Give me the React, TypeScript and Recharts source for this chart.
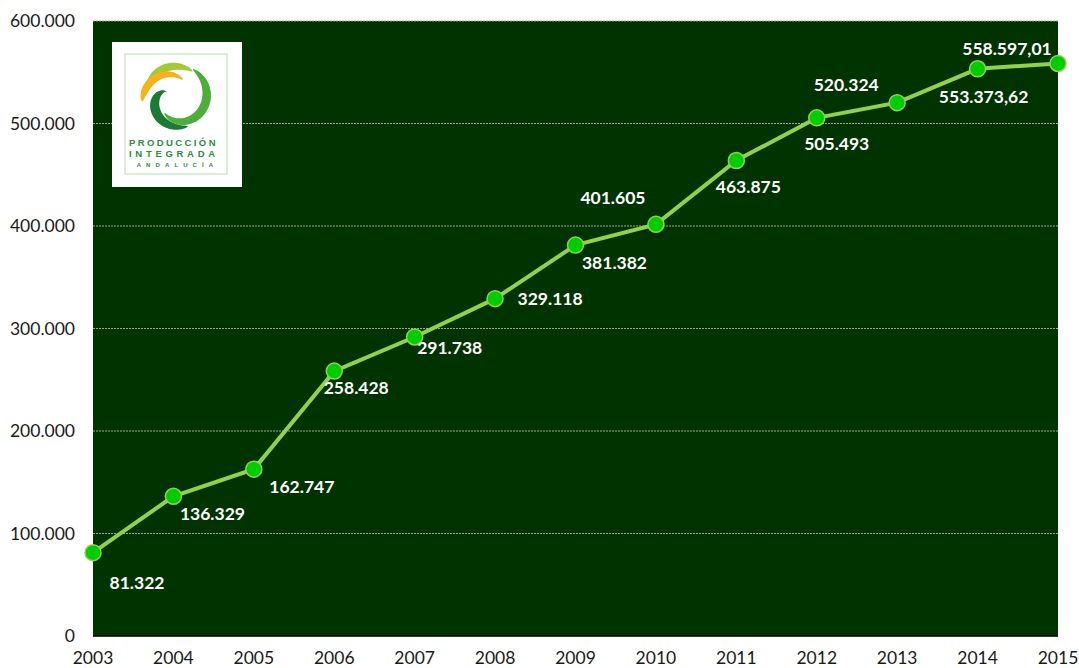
import React from 'react';
import { LineChart, Line, XAxis, YAxis, CartesianGrid, LabelList } from 'recharts';

const years = ['2003','2004','2005','2006','2007','2008','2009','2010','2011','2012','2013','2014','2015'];
const hectares = [81322, 136329, 162747, 258428, 291738, 329118, 381382, 401605, 463875, 505493, 520324, 553373.62, 558597.01];
const yTicks = [0, 100000, 200000, 300000, 400000, 500000, 600000];

// label placement offsets relative to each point (dx, dy)
const labelOffsets: [number, number][] = [
  [44, 30], [39, 17], [48, 17], [22, 16], [35, 11], [55, 0], [39, 17],
  [-43, -27], [12, 26], [20, 26], [-51, -18], [6, 28], [-51, -15],
];

const data = years.map((y, i) => ({ year: y, value: hectares[i] }));

const fmt = (v: number) => v.toLocaleString('de-DE', { maximumFractionDigits: 2 });

const FONT = 'Lato, "Open Sans", sans-serif';
const LOGO_FONT = "'Liberation Sans', Arial, sans-serif";

const renderLabel = (props: any) => {
  const { x, y, index, value } = props;
  const [dx, dy] = labelOffsets[index] || [0, 0];
  return (
    <text x={x + dx} y={y + dy} textAnchor="middle" dominantBaseline="central"
      fill="#ffffff" fontFamily={FONT} fontWeight={700} fontSize={17.5}>
      {fmt(value)}
    </text>
  );
};

function swoosh(cx: number, cy: number, r1: number, r2: number, a1: number, a2: number,
  w: number, peak: number, rexp = 1) {
  const n = 48;
  const outer: string[] = [];
  const inner: string[] = [];
  for (let i = 0; i <= n; i++) {
    const u = i / n;
    const a = ((a1 + (a2 - a1) * u) * Math.PI) / 180;
    const r = r1 + (r2 - r1) * Math.pow(u, rexp);
    const f = u < peak ? Math.sin((Math.PI / 2) * (u / peak)) : Math.sin((Math.PI / 2) * ((1 - u) / (1 - peak)));
    const hw = (w / 2) * Math.pow(Math.max(f, 0), 0.6);
    outer.push(`${(cx + (r + hw) * Math.cos(a)).toFixed(2)},${(cy + (r + hw) * Math.sin(a)).toFixed(2)}`);
    inner.push(`${(cx + (r - hw) * Math.cos(a)).toFixed(2)},${(cy + (r - hw) * Math.sin(a)).toFixed(2)}`);
  }
  return 'M' + outer.join(' L') + ' L' + inner.reverse().join(' L') + ' Z';
}

const Logo = () => (
  <svg width={1079} height={668} style={{ position: 'absolute', left: 0, top: 0, pointerEvents: 'none' }}>
    <rect x={112} y={42} width={130} height={145} fill="#ffffff" />
    <rect x={125} y={54} width={102} height={120} fill="none" stroke="#b9dcb0" strokeWidth={1} />
    <path d={swoosh(175, 97, 30, 31, 200, 305, 8, 0.45)} fill="#a3c83a" />
    <path d={swoosh(175, 97, 33, 19, -58, 124, 9, 0.4, 2)} fill="#4fae3a" />
    <path d={swoosh(175, 97, 33, 19, 172, 295, 8, 0.25)} fill="#f6b21c" />
    <path d={swoosh(175, 97, 9, 32, 215, 66, 10, 0.45, 0.6)} fill="#1c7a35" />
    <text x={129} y={146.2} fill="#2a8c3e" fontFamily={LOGO_FONT} fontWeight={700} fontSize={9.5} letterSpacing={2.4}>PRODUCCIÓN</text>
    <text x={129} y={157} fill="#2a8c3e" fontFamily={LOGO_FONT} fontWeight={700} fontSize={9.5} letterSpacing={3.7}>INTEGRADA</text>
    <text x={136.7} y={166.7} fill="#2a8c3e" fontFamily={LOGO_FONT} fontWeight={700} fontSize={6} letterSpacing={5.1}>ANDALUCÍA</text>
  </svg>
);

export default function App() {
  return (
    <div style={{ position: 'absolute', left: 0, top: 0, width: 1079, height: 668, background: '#ffffff' }}>
      <LineChart width={1079} height={668} data={data} margin={{ top: 21, right: 21, bottom: 0, left: 0 }}>
        <CartesianGrid vertical={false} fill="#003300" stroke="#9aa88f" strokeDasharray="2 1" strokeWidth={1} />
        <XAxis dataKey="year" axisLine={{ stroke: '#000000', strokeWidth: 1.5 }} tickLine={false} height={32}
          tickMargin={10} tick={{ fill: '#1a1a1a', fontFamily: FONT, fontSize: 17.5 }} interval={0} />
        <YAxis domain={[0, 600000]} ticks={yTicks} width={93} axisLine={false} tickLine={false}
          tickMargin={12} tickFormatter={(v: number) => fmt(v)}
          tick={{ fill: '#1a1a1a', fontFamily: FONT, fontSize: 17.5 }} />
        <Line type="linear" dataKey="value" stroke="#92d050" strokeWidth={4} isAnimationActive={false}
          dot={{ r: 8, fill: '#00cc00', stroke: '#92d050', strokeWidth: 1.5 }} activeDot={false}>
          <LabelList dataKey="value" content={renderLabel} />
        </Line>
      </LineChart>
      <Logo />
    </div>
  );
}
